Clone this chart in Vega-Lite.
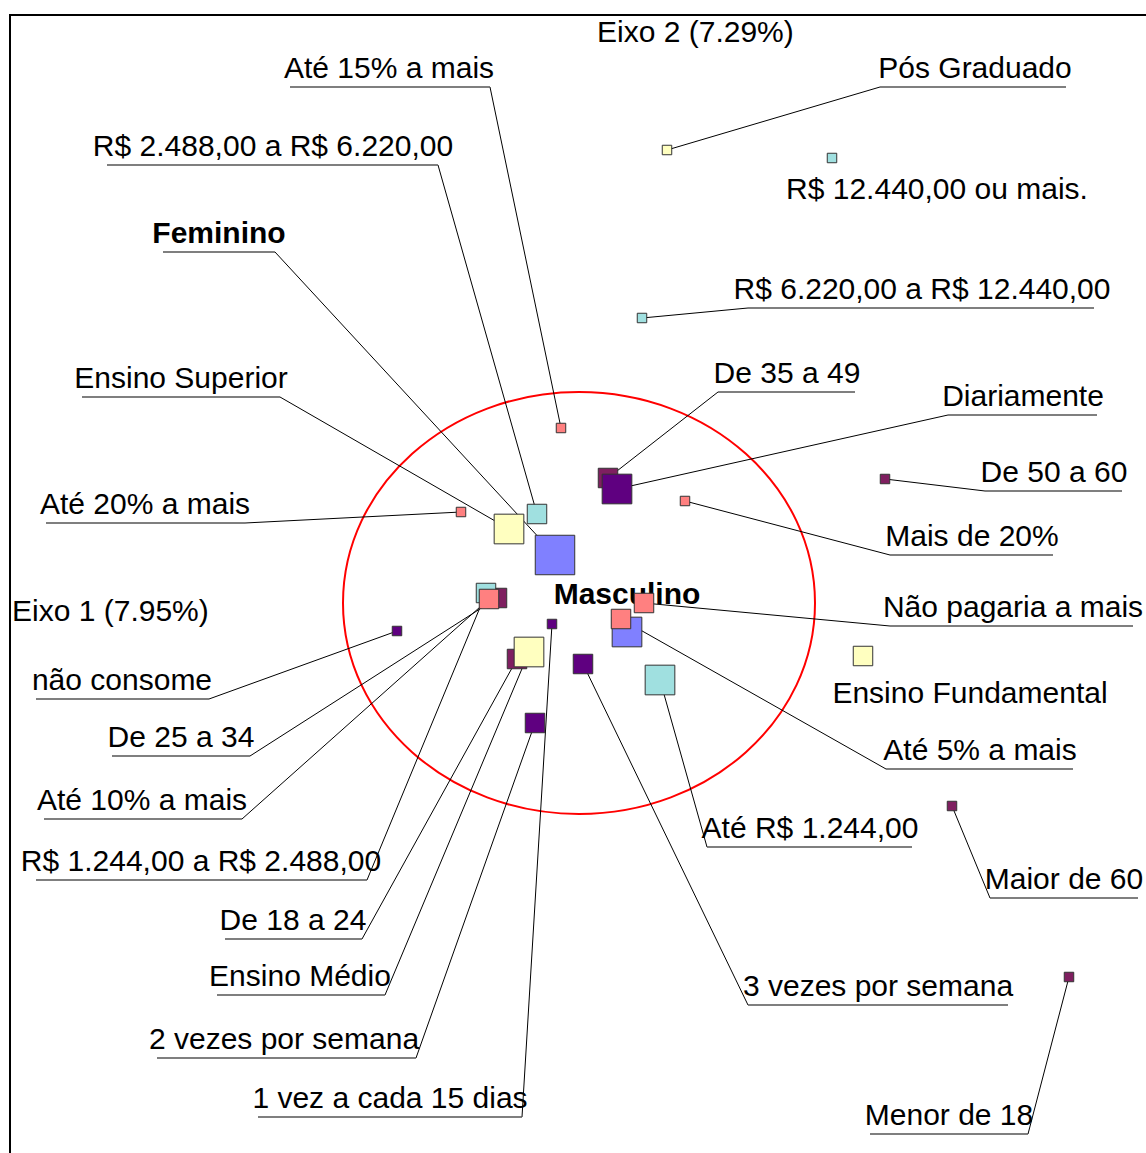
{
  "$schema": "https://vega.github.io/schema/vega-lite/v6.json",
  "width": 1137,
  "height": 1139,
  "autosize": {"type": "none"},
  "padding": {"left": 10, "top": 15, "right": 0, "bottom": 0},
  "background": "white",
  "config": {"view": {"stroke": "black", "strokeWidth": 2}},
  "datasets": {
    "pontos": [
      {"label": "Até 15% a mais", "grupo": "preço", "peso": 1, "x": -0.22, "y": 1.60, "lx": -1.94, "ly": 5.01, "u1": -2.93, "u2": -0.93, "ax": -0.93},
      {"label": "R$ 2.488,00 a R$ 6.220,00", "grupo": "renda", "peso": 2, "x": -0.46, "y": 0.74, "lx": -3.10, "ly": 4.23, "u1": -4.76, "u2": -1.45, "ax": -1.45},
      {"label": "Feminino", "grupo": "sexo", "peso": 4, "x": -0.28, "y": 0.33, "lx": -3.64, "ly": 3.36, "u1": -4.20, "u2": -3.08, "ax": -3.08},
      {"label": "Ensino Superior", "grupo": "escolaridade", "peso": 3, "x": -0.74, "y": 0.59, "lx": -4.02, "ly": 1.91, "u1": -5.01, "u2": -3.03, "ax": -3.03},
      {"label": "Até 20% a mais", "grupo": "preço", "peso": 1, "x": -1.22, "y": 0.76, "lx": -4.38, "ly": 0.65, "u1": -5.37, "u2": -3.38, "ax": -3.38},
      {"label": "Pós Graduado", "grupo": "escolaridade", "peso": 1, "x": 0.84, "y": 4.38, "lx": 3.92, "ly": 5.01, "u1": 2.97, "u2": 4.83, "ax": 2.97},
      {"label": "R$ 12.440,00 ou mais.", "grupo": "renda", "peso": 1, "x": 2.49, "y": 4.30, "lx": 3.54, "ly": 3.80, "u1": null, "u2": null, "ax": null},
      {"label": "R$ 6.220,00 a R$ 12.440,00", "grupo": "renda", "peso": 1, "x": 0.59, "y": 2.70, "lx": 3.39, "ly": 2.80, "u1": 1.65, "u2": 5.11, "ax": 1.65},
      {"label": "De 35 a 49", "grupo": "idade", "peso": 2, "x": 0.25, "y": 1.10, "lx": 2.04, "ly": 1.96, "u1": 1.35, "u2": 2.72, "ax": 1.35},
      {"label": "Diariamente", "grupo": "frequência", "peso": 3, "x": 0.34, "y": 0.99, "lx": 4.40, "ly": 1.73, "u1": 3.65, "u2": 5.14, "ax": 3.65},
      {"label": "De 50 a 60", "grupo": "idade", "peso": 1, "x": 3.02, "y": 1.09, "lx": 4.71, "ly": 0.97, "u1": 4.02, "u2": 5.39, "ax": 4.02},
      {"label": "Mais de 20%", "grupo": "preço", "peso": 1, "x": 1.02, "y": 0.87, "lx": 3.89, "ly": 0.33, "u1": 3.07, "u2": 4.70, "ax": 3.07},
      {"label": "Masculino", "grupo": "sexo", "peso": 3, "x": 0.44, "y": -0.44, "lx": 0.44, "ly": -0.25, "u1": null, "u2": null, "ax": null},
      {"label": "Não pagaria a mais", "grupo": "preço", "peso": 2, "x": 0.61, "y": -0.15, "lx": 4.30, "ly": -0.38, "u1": 3.07, "u2": 5.50, "ax": 3.07},
      {"label": "Ensino Fundamental", "grupo": "escolaridade", "peso": 2, "x": 2.80, "y": -0.68, "lx": 3.87, "ly": -1.24, "u1": null, "u2": null, "ax": null},
      {"label": "Até 5% a mais", "grupo": "preço", "peso": 2, "x": 0.38, "y": -0.31, "lx": 3.97, "ly": -1.81, "u1": 3.03, "u2": 4.90, "ax": 3.03},
      {"label": "Até R$ 1.244,00", "grupo": "renda", "peso": 3, "x": 0.77, "y": -0.92, "lx": 2.27, "ly": -2.59, "u1": 1.24, "u2": 3.29, "ax": 1.24},
      {"label": "Maior de 60", "grupo": "idade", "peso": 1, "x": 3.69, "y": -2.18, "lx": 4.81, "ly": -3.10, "u1": 4.07, "u2": 5.55, "ax": 4.07},
      {"label": "3 vezes por semana", "grupo": "frequência", "peso": 2, "x": 0.00, "y": -0.76, "lx": 2.95, "ly": -4.17, "u1": 1.65, "u2": 4.25, "ax": 1.65},
      {"label": "Menor de 18", "grupo": "idade", "peso": 1, "x": 4.86, "y": -3.89, "lx": 3.66, "ly": -5.46, "u1": 2.87, "u2": 4.45, "ax": 4.45},
      {"label": "não consome", "grupo": "frequência", "peso": 1, "x": -1.86, "y": -0.43, "lx": -4.61, "ly": -1.11, "u1": -5.47, "u2": -3.74, "ax": -3.74},
      {"label": "De 25 a 34", "grupo": "idade", "peso": 2, "x": -0.86, "y": -0.10, "lx": -4.02, "ly": -1.68, "u1": -4.71, "u2": -3.33, "ax": -3.33},
      {"label": "Até 10% a mais", "grupo": "preço", "peso": 2, "x": -0.94, "y": -0.11, "lx": -4.41, "ly": -2.31, "u1": -5.39, "u2": -3.41, "ax": -3.41},
      {"label": "R$ 1.244,00 a R$ 2.488,00", "grupo": "renda", "peso": 2, "x": -0.97, "y": -0.05, "lx": -3.82, "ly": -2.92, "u1": -5.47, "u2": -2.16, "ax": -2.16},
      {"label": "De 18 a 24", "grupo": "idade", "peso": 2, "x": -0.66, "y": -0.71, "lx": -2.90, "ly": -3.51, "u1": -3.58, "u2": -2.21, "ax": -2.21},
      {"label": "Ensino Médio", "grupo": "escolaridade", "peso": 3, "x": -0.54, "y": -0.64, "lx": -2.83, "ly": -4.07, "u1": -3.66, "u2": -1.98, "ax": -1.98},
      {"label": "2 vezes por semana", "grupo": "frequência", "peso": 2, "x": -0.48, "y": -1.35, "lx": -2.99, "ly": -4.70, "u1": -4.26, "u2": -1.67, "ax": -1.67},
      {"label": "1 vez a cada 15 dias", "grupo": "frequência", "peso": 1, "x": -0.31, "y": -0.36, "lx": -1.93, "ly": -5.29, "u1": -3.25, "u2": -0.61, "ax": -0.61}
    ],
    "ordem": [
      {"grupo": "sexo", "o": 1},
      {"grupo": "idade", "o": 2},
      {"grupo": "renda", "o": 3},
      {"grupo": "escolaridade", "o": 4},
      {"grupo": "frequência", "o": 5},
      {"grupo": "preço", "o": 6}
    ],
    "eixos": [
      {"label": "Eixo 1 (7.95%)", "lx": -5.71, "ly": -0.42},
      {"label": "Eixo 2 (7.29%)", "lx": 0.14, "ly": 5.37}
    ],
    "elipse": [
      {"cx": -0.04, "cy": -0.15}
    ]
  },
  "layer": [
    {
      "data": {"name": "elipse"},
      "mark": {"type": "point", "shape": "M -1 0 A 1 0.894 0 1 1 1 0 A 1 0.894 0 1 1 -1 0 Z", "size": 222784, "filled": false, "stroke": "#FF0000", "strokeWidth": 2, "opacity": 1},
      "encoding": {
        "x": {"field": "cx", "type": "quantitative", "scale": {"domain": [-5.73, 5.64], "nice": false, "zero": false}, "axis": null},
        "y": {"field": "cy", "type": "quantitative", "scale": {"domain": [-5.66, 5.73], "nice": false, "zero": false}, "axis": null}
      }
    },
    {
      "mark": {"type": "rule", "color": "black", "strokeWidth": 1},
      "encoding": {
        "y": {"datum": 0, "type": "quantitative", "scale": {"domain": [-5.66, 5.73], "nice": false, "zero": false}, "axis": null}
      }
    },
    {
      "mark": {"type": "rule", "color": "black", "strokeWidth": 1},
      "encoding": {
        "x": {"datum": 0, "type": "quantitative", "scale": {"domain": [-5.73, 5.64], "nice": false, "zero": false}, "axis": null}
      }
    },
    {
      "data": {"name": "pontos"},
      "transform": [{"filter": "datum.ax != null"}],
      "mark": {"type": "rule", "color": "black", "strokeWidth": 1},
      "encoding": {
        "x": {"field": "ax", "type": "quantitative", "scale": {"domain": [-5.73, 5.64], "nice": false, "zero": false}, "axis": null},
        "y": {"field": "ly", "type": "quantitative", "scale": {"domain": [-5.66, 5.73], "nice": false, "zero": false}, "axis": null},
        "x2": {"field": "x"},
        "y2": {"field": "y"}
      }
    },
    {
      "data": {"name": "pontos"},
      "transform": [{"filter": "datum.u1 != null"}],
      "mark": {"type": "rule", "color": "#555555", "strokeWidth": 1.3},
      "encoding": {
        "x": {"field": "u1", "type": "quantitative", "scale": {"domain": [-5.73, 5.64], "nice": false, "zero": false}, "axis": null},
        "x2": {"field": "u2"},
        "y": {"field": "ly", "type": "quantitative", "scale": {"domain": [-5.66, 5.73], "nice": false, "zero": false}, "axis": null}
      }
    },
    {
      "data": {"name": "pontos"},
      "transform": [{"filter": "datum.label !== 'Feminino' && datum.label !== 'Masculino'"}],
      "mark": {"type": "text", "font": "Liberation Sans", "fontSize": 30, "align": "center", "baseline": "alphabetic", "dy": -9, "color": "black"},
      "encoding": {
        "x": {"field": "lx", "type": "quantitative", "scale": {"domain": [-5.73, 5.64], "nice": false, "zero": false}, "axis": null},
        "y": {"field": "ly", "type": "quantitative", "scale": {"domain": [-5.66, 5.73], "nice": false, "zero": false}, "axis": null},
        "text": {"field": "label"}
      }
    },
    {
      "data": {"name": "pontos"},
      "transform": [{"filter": "datum.label === 'Feminino' || datum.label === 'Masculino'"}],
      "mark": {"type": "text", "font": "Liberation Sans", "fontSize": 30, "fontWeight": "bold", "align": "center", "baseline": "alphabetic", "dy": -9, "color": "black"},
      "encoding": {
        "x": {"field": "lx", "type": "quantitative", "scale": {"domain": [-5.73, 5.64], "nice": false, "zero": false}, "axis": null},
        "y": {"field": "ly", "type": "quantitative", "scale": {"domain": [-5.66, 5.73], "nice": false, "zero": false}, "axis": null},
        "text": {"field": "label"}
      }
    },
    {
      "data": {"name": "eixos"},
      "mark": {"type": "text", "font": "Liberation Sans", "fontSize": 30, "align": "left", "baseline": "alphabetic", "dy": -9, "color": "black"},
      "encoding": {
        "x": {"field": "lx", "type": "quantitative", "scale": {"domain": [-5.73, 5.64], "nice": false, "zero": false}, "axis": null},
        "y": {"field": "ly", "type": "quantitative", "scale": {"domain": [-5.66, 5.73], "nice": false, "zero": false}, "axis": null},
        "text": {"field": "label"}
      }
    },
    {
      "data": {"name": "pontos"},
      "transform": [
        {"lookup": "grupo", "from": {"data": {"name": "ordem"}, "key": "grupo", "fields": ["o"]}}
      ],
      "mark": {"type": "square", "opacity": 1, "stroke": "#333333", "strokeWidth": 1, "filled": true},
      "encoding": {
        "x": {"field": "x", "type": "quantitative", "scale": {"domain": [-5.73, 5.64], "nice": false, "zero": false}, "axis": null},
        "y": {"field": "y", "type": "quantitative", "scale": {"domain": [-5.66, 5.73], "nice": false, "zero": false}, "axis": null},
        "size": {"field": "peso", "type": "ordinal", "scale": {"type": "ordinal", "domain": [1, 2, 3, 4], "range": [90, 380, 880, 1560]}, "legend": null},
        "color": {"field": "grupo", "type": "nominal", "scale": {"domain": ["sexo", "idade", "renda", "escolaridade", "frequência", "preço"], "range": ["#8080FF", "#7F1F60", "#A0E0E0", "#FFFFC0", "#5F0080", "#FF8080"]}, "legend": null},
        "order": {"field": "o", "type": "quantitative"}
      }
    }
  ]
}
